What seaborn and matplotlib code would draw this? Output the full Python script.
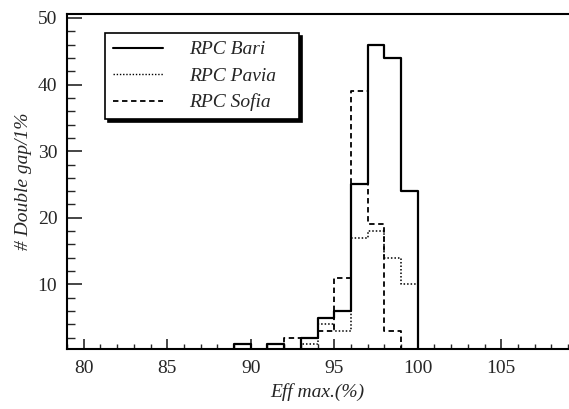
import numpy as np
import pandas as pd
import matplotlib
matplotlib.use("Agg")
import matplotlib.pyplot as plt
from matplotlib.ticker import MultipleLocator
from matplotlib.lines import Line2D
import seaborn as sns

sns.set_style("white")
plt.rcParams['font.family'] = ['Liberation Serif', 'DejaVu Serif']

# 1% wide bins from 79 to 109
edges = list(range(79, 110))
centers = [e + 0.5 for e in edges[:-1]]

# counts per bin (only non-zero bins listed, rest are 0)
bari_bins = [89, 91, 93, 94, 95, 96, 97, 98, 99]
bari_counts = [1, 1, 2, 5, 6, 25, 46, 44, 24]
pavia_bins = [93, 94, 95, 96, 97, 98, 99]
pavia_counts = [1, 4, 3, 17, 18, 14, 10]
sofia_bins = [92, 93, 94, 95, 96, 97, 98]
sofia_counts = [2, 2, 3, 11, 39, 19, 3]


def fill(bins, counts):
    w = dict(zip(bins, counts))
    return [w.get(e, 0) for e in edges[:-1]]


bari = fill(bari_bins, bari_counts)
pavia = fill(pavia_bins, pavia_counts)
sofia = fill(sofia_bins, sofia_counts)

fig = plt.figure(figsize=(5.69, 4.09), dpi=100)
ax = fig.add_axes([67 / 569, 1 - 349 / 409, 501 / 569, 335 / 409])

sns.histplot(x=centers, weights=pavia, bins=edges, element='step', fill=False,
             color='k', linewidth=1.1, linestyle=(0, (1, 1.3)), ax=ax)
sns.histplot(x=centers, weights=sofia, bins=edges, element='step', fill=False,
             color='k', linewidth=1.3, linestyle=(0, (3, 2)), ax=ax)
sns.histplot(x=centers, weights=bari, bins=edges, element='step', fill=False,
             color='k', linewidth=1.6, linestyle='-', ax=ax)

ax.set_xlim(79, 109)
ax.set_ylim(0.3, 50.6)
ax.xaxis.set_major_locator(MultipleLocator(5))
ax.xaxis.set_minor_locator(MultipleLocator(1))
ax.yaxis.set_major_locator(MultipleLocator(10))
ax.yaxis.set_minor_locator(MultipleLocator(2))
ax.tick_params(axis='x', which='major', direction='in', length=7, width=1.2,
               labelsize=14, pad=8, bottom=True, top=False)
ax.tick_params(axis='x', which='minor', direction='in', length=3.5, width=1.0,
               bottom=True, top=False)
ax.tick_params(axis='y', which='major', direction='in', length=11, width=1.2,
               labelsize=14, pad=7, left=True, right=False)
ax.tick_params(axis='y', which='minor', direction='in', length=5.5, width=1.0,
               left=True, right=False)
for s in ax.spines.values():
    s.set_color('k')
    s.set_linewidth(1.5)
ax.spines['right'].set_visible(False)

ax.set_xlabel('Eff max.(%)', fontsize=14, style='italic', labelpad=4)
ax.set_ylabel('# Double gap/1%', fontsize=14, style='italic', labelpad=4)

handles = [
    Line2D([], [], color='k', lw=1.5, ls='-'),
    Line2D([], [], color='k', lw=1.0, ls=(0, (1, 1.3))),
    Line2D([], [], color='k', lw=1.3, ls=(0, (3, 2))),
]
labels = ['RPC Bari', 'RPC Pavia', 'RPC Sofia']
leg = ax.legend(handles, labels, loc='upper left',
                bbox_to_anchor=(0.076, 0.693, 0.387, 0.25), mode='expand',
                borderaxespad=0, fancybox=False, edgecolor='k', framealpha=1,
                shadow={'color': 'k', 'alpha': 1},
                prop={'family': 'Liberation Serif', 'style': 'italic', 'size': 14},
                handlelength=2.6, handletextpad=1.3, labelspacing=0.45,
                borderpad=0.4)
leg.get_frame().set_linewidth(1.2)

fig.savefig('out.png', dpi=100)
